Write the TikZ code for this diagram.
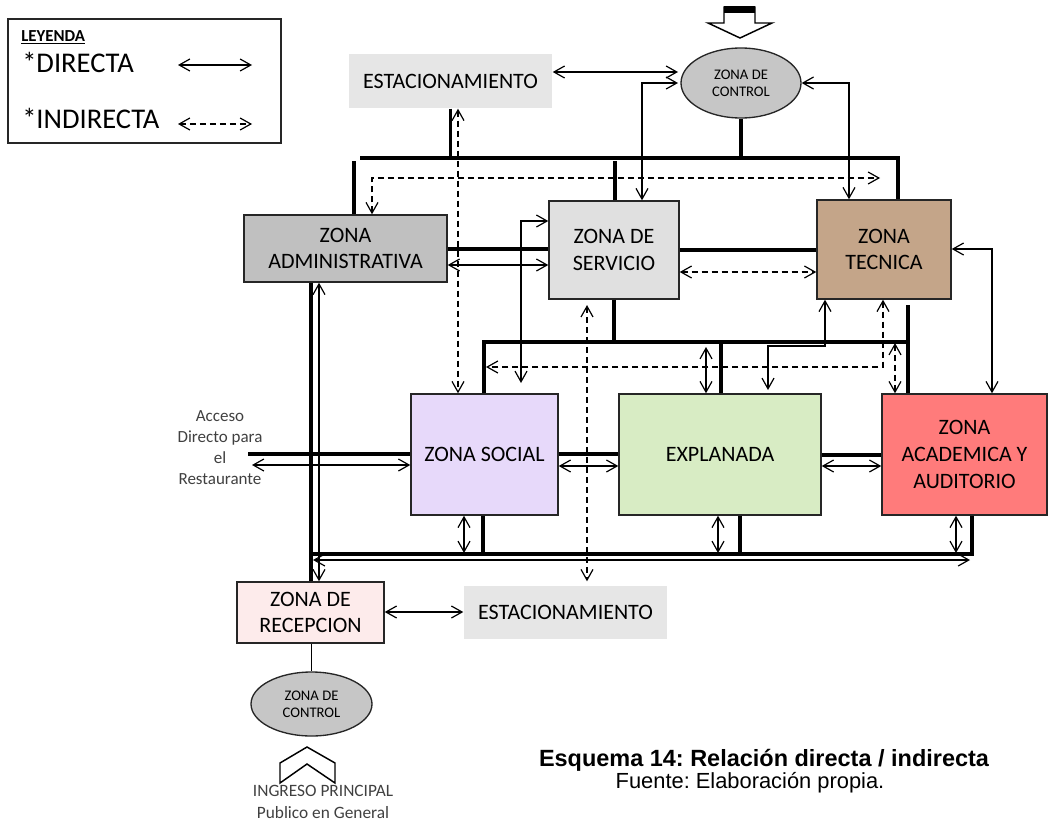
\documentclass[tikz,border=0pt]{standalone}
\usepackage{fontspec}
\setmainfont{Carlito}
\newfontfamily\arialf{Liberation Sans}
\usetikzlibrary{arrows.meta,shapes.geometric,fit}
\frenchspacing
\definecolor{cest}{HTML}{E6E6E6}
\definecolor{cadm}{HTML}{C0C0C0}
\definecolor{cserv}{HTML}{E0E0E0}
\definecolor{ctec}{HTML}{C4A589}
\definecolor{csoc}{HTML}{E7D9FA}
\definecolor{cexp}{HTML}{D8ECC4}
\definecolor{cacad}{HTML}{FF7B7B}
\definecolor{crec}{HTML}{FDEBEB}
\definecolor{cctrl}{HTML}{C6C6C6}
\definecolor{cgtxt}{HTML}{404040}
\tikzset{
  zbox/.style={draw=black!85, line width=1.1pt, inner sep=0pt, align=center, font=\fontsize{16.5}{20.1}\selectfont},
  estbox/.style={zbox, draw=none, fill=cest},
  ctrlell/.style={ellipse, draw=black!85, line width=1pt, fill=cctrl, inner sep=0pt, align=center, font=\fontsize{11}{12.75}\selectfont},
  busline/.style={line width=2.5pt, line join=miter},
  dirline/.style={line width=0.9pt, <->, >={Straight Barb[length=8pt,width=9pt]}},
  indline/.style={dirline, dash pattern=on 4.5pt off 3pt},
  gtext/.style={anchor=base, inner sep=0pt, text=cgtxt, font=\fontsize{12.75}{15.75}\selectfont},
}
\begin{document}
\begin{tikzpicture}[x=0.75pt,y=-0.75pt]
\useasboundingbox (0,0) rectangle (1048,828);

% legend
\node[draw=black!85, line width=1.1pt, inner sep=0pt, fit={(8,19) (281,143)}] (leg) {};
\node[anchor=base west, inner sep=0pt, font=\bfseries\fontsize{12.6}{15}\selectfont] (legt) at (21,41) {\underline{LEYENDA}};
\node[anchor=base west, inner sep=0pt, font=\fontsize{21.4}{25}\selectfont] (ld) at (22,72) {*DIRECTA};
\node[anchor=base west, inner sep=0pt, font=\fontsize{21.4}{25}\selectfont] (li) at (22,128) {*INDIRECTA};
\coordinate (lda) at (178,65); \coordinate (ldb) at (252,65);
\coordinate (lia) at (178,124); \coordinate (lib) at (252,124);
\draw[dirline] (lda) -- (ldb);
\draw[indline] (lia) -- (lib);

% block arrow top
\draw[line width=1.1pt, fill=white, line join=miter] (724,7) -- (755,7) -- (755,23) -- (772,23) -- (740,38) -- (708,23) -- (724,23) -- cycle;
\fill (724,6) rectangle (755,13);

% nodes
\node[estbox, minimum width=152.25pt, minimum height=40.5pt] (est1) at (450.5,81) {ESTACIONAMIENTO};
\node[ctrlell, minimum width=90pt, minimum height=52.5pt] (ctrl1) at (741,83) {ZONA DE\\CONTROL};
\node[zbox, fill=cadm, minimum width=152.25pt, minimum height=50.25pt] (adm) at (345.5,248.5) {ZONA\\ADMINISTRATIVA};
\node[zbox, fill=cserv, minimum width=97.5pt, minimum height=73.5pt] (serv) at (614,250) {ZONA DE\\SERVICIO};
\node[zbox, fill=ctec, minimum width=100.5pt, minimum height=74.25pt] (tec) at (884,249.5) {ZONA\\TECNICA};
\node[zbox, fill=csoc, minimum width=110.25pt, minimum height=90.75pt] (soc) at (484.5,454.5) {ZONA SOCIAL};
\node[zbox, fill=cexp, minimum width=151.5pt, minimum height=90.75pt] (exp) at (720,454.5) {EXPLANADA};
\node[zbox, fill=cacad, minimum width=123.75pt, minimum height=90.75pt] (acad) at (964.5,454.5) {ZONA\\ACADEMICA Y\\AUDITORIO};
\node[zbox, fill=crec, minimum width=110.25pt, minimum height=45.75pt] (rec) at (310.5,612.5) {ZONA DE\\RECEPCION};
\node[estbox, minimum width=152.25pt, minimum height=39.75pt] (est2) at (565.5,612.5) {ESTACIONAMIENTO};
\node[ctrlell, minimum width=90.75pt, minimum height=48pt] (ctrl2) at (311.5,704) {ZONA DE\\CONTROL};

% thick circulation lines
\draw[busline] (ctrl1.south) -- (ctrl1.south |- 0,158);
\draw[busline] (360,158) -- (898,158) -- (tec.north -| 898,0);
\draw[busline] (est1.south) -- (est1.south |- 0,158);
\draw[busline] (adm.north -| 354,0) -- (354,161);
\draw[busline] (serv.north -| 615,0) -- (615,161);
\draw[busline] (adm.east |- 0,249) -- (serv.west |- 0,249);
\draw[busline] (serv.east |- 0,250) -- (tec.west |- 0,250);
\draw[busline] (serv.south -| 614,0) -- (614,342);
\draw[busline] (soc.north -| 484,0) -- (484,342) -- (908,342);
\draw[busline] (908,305) -- (acad.north -| 908,0);
\draw[busline] (exp.north -| 721,0) -- (721,342);
\draw[busline] (adm.south -| 311,0) -- (rec.north -| 311,0);
\draw[busline] (248,454) -- (soc.west |- 0,454);
\draw[busline] (soc.east |- 0,454) -- (exp.west |- 0,454);
\draw[busline] (exp.east |- 0,455) -- (acad.west |- 0,455);
\draw[busline] (311,554) -- (972,554) -- (acad.south -| 972,0);
\draw[busline] (soc.south -| 483,0) -- (483,554);
\draw[busline] (exp.south -| 740,0) -- (740,554);

% direct relations
\draw[dirline] (est1.east |- 0,72) -- (678,72);
\draw[dirline] (678,83) -- (642,83) -- (serv.north -| 642,0);
\draw[dirline] (ctrl1.east) -- (849,83) -- (tec.north -| 849,0);
\draw[dirline] (adm.east |- 0,265) -- (serv.west |- 0,265);
\draw[dirline] (serv.west |- 0,221) -- (521,221) -- (521,383);
\draw[dirline] (tec.south -| 825,0) -- (825,346) -- (768,346) -- (768,390);
\draw[dirline] (tec.east |- 0,249) -- (992,249) -- (acad.north -| 992,0);
\draw[dirline] (706,347) -- (exp.north -| 706,0);
\draw[dirline] (252,465) -- (soc.west |- 0,465);
\draw[dirline] (soc.east |- 0,466) -- (exp.west |- 0,466);
\draw[dirline] (exp.east |- 0,466) -- (acad.west |- 0,466);
\draw[dirline] (adm.south -| 319,0) -- (rec.north -| 319,0);
\draw[dirline] (313,560) -- (970,560);
\draw[dirline] (soc.south -| 464,0) -- (464,553);
\draw[dirline] (exp.south -| 718,0) -- (718,553);
\draw[dirline] (acad.south -| 956,0) -- (956,553);
\draw[dirline] (rec.east |- 0,612) -- (est2.west |- 0,612);
\draw[line width=0.9pt] (rec.south -| ctrl2.north) -- (ctrl2.north);

% indirect relations
\draw[indline] (adm.north -| 372,0) -- (372,178) -- (880,178);
\draw[indline] (est1.south -| 458,0) -- (soc.north -| 458,0);
\draw[indline] (serv.east |- 0,272) -- (tec.west |- 0,272);
\draw[indline, shorten <=4pt, shorten >=3pt] (serv.south -| 587,0) -- (est2.north -| 587,0);
\draw[indline] (tec.south -| 883,0) -- (883,367) -- (486,367);
\draw[indline] (895,343) -- (acad.north -| 895,0);

% chevron entrance
\draw[line width=1.1pt, fill=white, line join=miter] (280,763) -- (307,747) -- (335,763) -- (335,783) -- (307,764) -- (280,783) -- cycle;

% gray texts
\node[gtext] (acc1) at (220,421) {Acceso};
\node[gtext] (acc2) at (220,442) {Directo para};
\node[gtext] (acc3) at (220,463) {el};
\node[gtext] (acc4) at (220,484) {Restaurante};
\node[gtext, font=\fontsize{13}{16}\selectfont] (ing1) at (323,796) {INGRESO PRINCIPAL};
\node[gtext, font=\fontsize{13}{16}\selectfont] (ing2) at (323,818) {Publico en General};

% caption
\node[anchor=base, inner sep=0pt, font=\arialf\bfseries\fontsize{17.6}{20}\selectfont] (cap1) at (764,766) {Esquema 14: Relación directa / indirecta};
\node[anchor=base, inner sep=0pt, font=\arialf\fontsize{16.4}{20}\selectfont] (cap2) at (750,788) {Fuente: Elaboración propia.};
\end{tikzpicture}
\end{document}
